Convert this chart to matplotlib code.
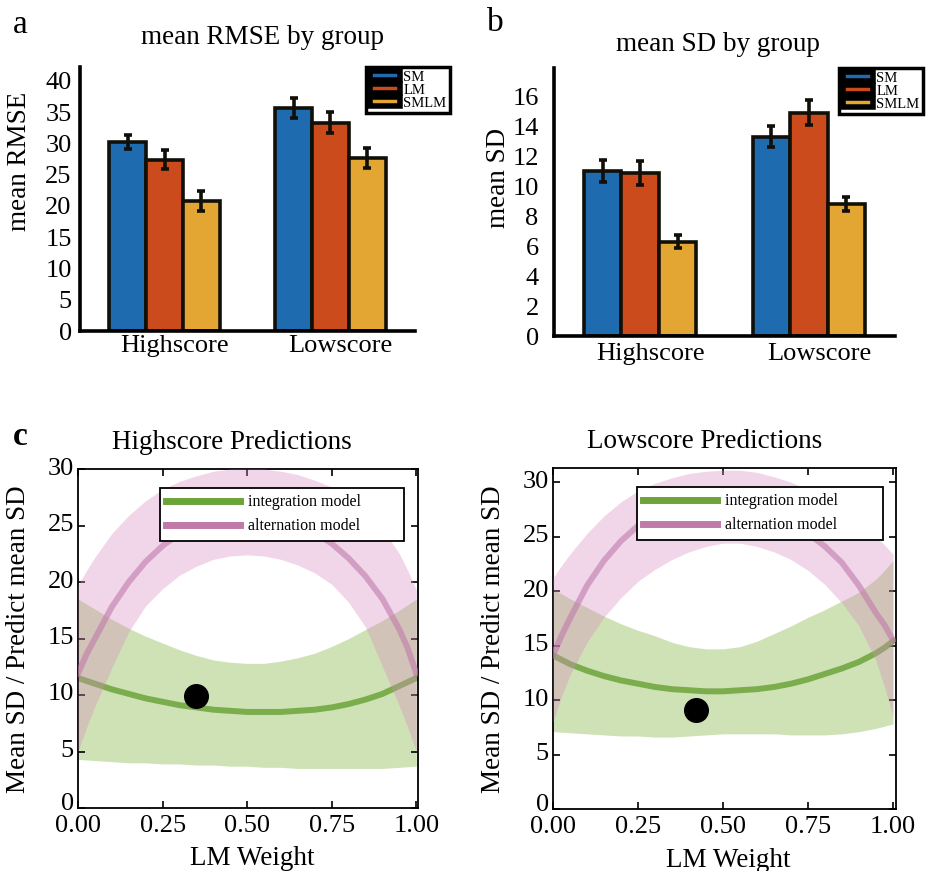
import matplotlib
matplotlib.use("Agg")
import matplotlib.pyplot as plt
import matplotlib.transforms as mtransforms
from matplotlib.patches import Patch
from matplotlib.lines import Line2D

plt.rcParams['font.family'] = ['Liberation Serif', 'DejaVu Serif']

# ---- bar data (panels a, b) ----
groups = ["Highscore", "Lowscore"]
models = ["SM", "LM", "SMLM"]
bar_colors = ["#1E6CAF", "#CC4B1C", "#E3A632"]

rmse_sm = [30.2, 35.7]
rmse_lm = [27.4, 33.3]
rmse_smlm = [20.8, 27.7]
rmse_sm_err = [1.1, 1.6]
rmse_lm_err = [1.5, 1.7]
rmse_smlm_err = [1.6, 1.6]

sd_sm = [11.0, 13.3]
sd_lm = [10.9, 14.9]
sd_smlm = [6.3, 8.8]
sd_sm_err = [0.73, 0.73]
sd_lm_err = [0.8, 0.83]
sd_smlm_err = [0.45, 0.47]

# ---- prediction curves (panels c, d) ----
lm_weight = [0.00, 0.025, 0.05, 0.10, 0.15, 0.20, 0.25, 0.30, 0.35, 0.40, 0.45, 0.50,
             0.55, 0.60, 0.65, 0.70, 0.75, 0.80, 0.85, 0.90, 0.95, 0.975, 1.00]

hs_int_mean = [11.5, 11.25, 11.0, 10.5, 10.1, 9.7, 9.4, 9.1, 8.9, 8.7, 8.6, 8.5,
               8.5, 8.5, 8.6, 8.7, 8.9, 9.2, 9.6, 10.1, 10.8, 11.15, 11.5]
hs_int_upper = [18.5, 18.05, 17.6, 16.7, 15.9, 15.2, 14.6, 14.0, 13.5, 13.1, 12.9, 12.8,
                12.8, 13.0, 13.3, 13.7, 14.3, 15.0, 15.8, 16.6, 17.5, 18.0, 18.5]
hs_int_lower = [4.3, 4.25, 4.2, 4.1, 4.0, 4.0, 3.9, 3.9, 3.8, 3.8, 3.7, 3.7,
                3.6, 3.6, 3.5, 3.5, 3.5, 3.5, 3.5, 3.5, 3.6, 3.65, 3.7]
hs_alt_mean = [11.9, 13.6, 15.0, 17.8, 20.0, 21.8, 23.2, 24.3, 25.1, 25.6, 25.9, 26.0,
               25.9, 25.6, 25.1, 24.4, 23.4, 22.1, 20.5, 18.5, 15.8, 14.1, 11.9]
hs_alt_upper = [19.7, 21.0, 22.2, 24.3, 25.9, 27.2, 28.2, 28.9, 29.4, 29.8, 30.0, 30.0,
                30.0, 29.8, 29.5, 29.0, 28.4, 27.5, 26.3, 24.7, 22.5, 21.0, 19.3]
hs_alt_lower = [5.0, 7.1, 9.0, 12.4, 15.6, 17.9, 19.4, 20.6, 21.4, 22.0, 22.3, 22.4,
                22.3, 22.0, 21.5, 20.8, 19.8, 18.2, 16.0, 12.5, 9.0, 7.1, 5.0]
hs_obs = (0.35, 9.9)

ls_int_mean = [14.1, 13.7, 13.3, 12.7, 12.2, 11.8, 11.5, 11.2, 11.0, 10.9, 10.8, 10.8,
               10.9, 11.0, 11.2, 11.5, 11.9, 12.4, 12.9, 13.5, 14.3, 14.8, 15.4]
ls_int_upper = [20.2, 19.75, 19.3, 18.5, 17.7, 17.0, 16.4, 15.9, 15.3, 14.9, 14.7, 14.7,
                14.9, 15.4, 16.1, 16.8, 17.6, 18.3, 19.1, 19.9, 21.1, 21.9, 22.8]
ls_int_lower = [7.1, 7.05, 7.0, 6.9, 6.8, 6.7, 6.7, 6.6, 6.6, 6.7, 6.8, 6.9,
                6.9, 6.9, 6.9, 6.8, 6.8, 6.8, 6.9, 7.1, 7.4, 7.6, 7.8]
ls_alt_mean = [14.1, 15.9, 17.5, 20.5, 22.8, 24.6, 26.0, 27.0, 27.7, 28.1, 28.3, 28.3,
               28.1, 27.7, 27.1, 26.3, 25.3, 24.1, 22.6, 20.5, 18.0, 16.9, 15.5]
ls_alt_upper = [21.2, 22.35, 23.4, 25.3, 26.9, 28.2, 29.2, 29.9, 30.4, 30.8, 31.0, 31.1,
                31.1, 30.9, 30.5, 30.0, 29.3, 28.5, 27.5, 26.3, 25.0, 24.25, 23.4]
ls_alt_lower = [8.0, 10.3, 12.3, 15.3, 17.6, 19.4, 20.9, 22.0, 22.9, 23.6, 24.1, 24.4,
                24.4, 24.1, 23.6, 22.9, 21.9, 20.6, 18.9, 16.8, 13.6, 11.2, 8.5]
ls_obs = (0.42, 9.1)

GREEN = "#77AC30"
GREEN_LINE = "#6CA43A"
PINK = "#D98BC0"
PINK_LINE = "#C07AAA"

W, H = 930, 871


def px_axes(fig, left, top, right, bottom):
    return fig.add_axes([left / W, 1 - bottom / H, (right - left) / W, (bottom - top) / H])


def shift_labels(fig, labels, dx, dy):
    # nudge tick labels by a few pixels, as in the source figure
    offset = mtransforms.ScaledTranslation(dx / 100, dy / 100, fig.dpi_scale_trans)
    for lab in labels:
        lab.set_transform(lab.get_transform() + offset)


def plot_bars(fig, ax, means, errs, ylim, yticks, ypad, xpad, legend_x):
    width = 0.222
    xs = [1, 2]
    for i, (vals, err) in enumerate(zip(means, errs)):
        pos = [x + (i - 1) * width for x in xs]
        ax.bar(pos, vals, width=width, color=bar_colors[i], edgecolor="#100f08",
               linewidth=2.6, zorder=2)
        ax.errorbar(pos, vals, yerr=err, fmt="none", ecolor="#100f08",
                    elinewidth=2.6, capsize=3, capthick=2.6, zorder=3)
    ax.set_xlim(0.49, 2.51)
    ax.set_ylim(*ylim)
    ax.set_yticks(yticks)
    ax.set_xticks(xs)
    ax.set_xticklabels(groups)
    for s in ["top", "right"]:
        ax.spines[s].set_visible(False)
    for s in ["left", "bottom"]:
        ax.spines[s].set_linewidth(2.6)
    ax.tick_params(axis="both", length=0, labelsize=19)
    ax.tick_params(axis="y", pad=ypad)
    ax.tick_params(axis="x", pad=xpad)
    shift_labels(fig, ax.get_xticklabels(), 10, 0)
    handles = [Patch(facecolor=c, edgecolor="black", linewidth=4) for c in bar_colors]
    leg = ax.legend(handles, models, loc="upper left", bbox_to_anchor=(legend_x, 1.0),
                    borderaxespad=0, fontsize=10.5, handlelength=2.1, handleheight=0.5,
                    labelspacing=0.0, handletextpad=0.2, borderpad=0.25,
                    fancybox=False, framealpha=1)
    leg.get_frame().set_edgecolor("black")
    leg.get_frame().set_linewidth(2.5)


def plot_pred(fig, ax, int_mean, int_lo, int_hi, alt_mean, alt_lo, alt_hi, obs, ylim, legend_x):
    ax.fill_between(lm_weight, int_lo, int_hi, color=GREEN, alpha=0.35, linewidth=0, zorder=1)
    ax.plot(lm_weight, int_mean, color=GREEN_LINE, alpha=0.85, linewidth=4.3, zorder=2)
    ax.fill_between(lm_weight, alt_lo, alt_hi, color=PINK, alpha=0.35, linewidth=0, zorder=3)
    ax.plot(lm_weight, alt_mean, color=PINK_LINE, alpha=0.6, linewidth=4.3, zorder=4)
    ax.plot([obs[0]], [obs[1]], "o", color="black", markersize=17, zorder=6)
    ax.set_xlim(0, ylim[2])
    ax.set_ylim(ylim[0], ylim[1])
    ax.set_xticks([0, 0.25, 0.5, 0.75, 1.0])
    ax.set_xticklabels(["0.00", "0.25", "0.50", "0.75", "1.00"])
    ax.set_yticks([0, 5, 10, 15, 20, 25, 30])
    for s in ax.spines.values():
        s.set_linewidth(1.3)
    ax.tick_params(direction="in", length=5, width=1.2, top=True, right=True, labelsize=19)
    ax.tick_params(axis="y", pad=3)
    ax.tick_params(axis="x", pad=5)
    ylabels = ax.get_yticklabels()
    shift_labels(fig, ylabels[:1], 0, 7)
    shift_labels(fig, ylabels[1:], 0, 3)
    handles = [Line2D([], [], color=GREEN_LINE, linewidth=5),
               Line2D([], [], color=PINK_LINE, linewidth=5)]
    leg = ax.legend(handles, ["integration model", "alternation model"], loc="upper left",
                    bbox_to_anchor=(legend_x, 0.744, 0.717, 0.2), mode="expand",
                    borderaxespad=0, fontsize=11.5, handlelength=4.6, labelspacing=0.5,
                    handletextpad=0.5, fancybox=False, framealpha=1)
    leg.get_frame().set_edgecolor("black")
    leg.get_frame().set_linewidth(1.3)
    leg.set_zorder(10)


fig = plt.figure(figsize=(W / 100, H / 100), dpi=100)

ax_a = px_axes(fig, 80, 67, 415, 331)
plot_bars(fig, ax_a, [rmse_sm, rmse_lm, rmse_smlm], [rmse_sm_err, rmse_lm_err, rmse_smlm_err],
          (0, 42.2), [0, 5, 10, 15, 20, 25, 30, 35, 40], 6, 3, 0.854)

ax_b = px_axes(fig, 554, 68, 895, 336)
plot_bars(fig, ax_b, [sd_sm, sd_lm, sd_smlm], [sd_sm_err, sd_lm_err, sd_smlm_err],
          (0, 17.87), [0, 2, 4, 6, 8, 10, 12, 14, 16], 11, 5, 0.836)

ax_c = px_axes(fig, 78, 469, 418, 808)
plot_pred(fig, ax_c, hs_int_mean, hs_int_lower, hs_int_upper, hs_alt_mean, hs_alt_lower,
          hs_alt_upper, hs_obs, (0, 30, 1.005), 0.241)

ax_d = px_axes(fig, 553, 468, 896, 809)
plot_pred(fig, ax_d, ls_int_mean, ls_int_lower, ls_int_upper, ls_alt_mean, ls_alt_lower,
          ls_alt_upper, ls_obs, (0, 31.3, 1.009), 0.245)


def ftext(x, y, s, **kw):
    fig.text(x / W, 1 - y / H, s, **kw)


# titles
ftext(262, 44, "mean RMSE by group", fontsize=19.5, ha="center", va="baseline")
ftext(718, 51, "mean SD by group", fontsize=19.5, ha="center", va="baseline")
ftext(232, 449, "Highscore Predictions", fontsize=19.5, ha="center", va="baseline")
ftext(705, 448, "Lowscore Predictions", fontsize=19.5, ha="center", va="baseline")

# y labels
ftext(20, 161, "mean RMSE", fontsize=19.5, rotation=90, ha="center", va="center")
ftext(498, 178, "mean SD", fontsize=19.5, rotation=90, ha="center", va="center")
ftext(19, 639, "Mean SD / Predict mean SD", fontsize=19.5, rotation=90, ha="center", va="center")
ftext(493, 639, "Mean SD / Predict mean SD", fontsize=19.5, rotation=90, ha="center", va="center")

# x labels
ftext(252, 858, "LM Weight", fontsize=19.5, ha="center", va="center")
ftext(728, 860, "LM Weight", fontsize=19.5, ha="center", va="center")

# panel letters
ftext(20, 25, "a", fontsize=24, ha="center", va="center")
ftext(495, 23, "b", fontsize=24, ha="center", va="center")
ftext(20, 436, "c", fontsize=24, fontweight="bold", ha="center", va="center")

fig.savefig("out.png", dpi=100)
